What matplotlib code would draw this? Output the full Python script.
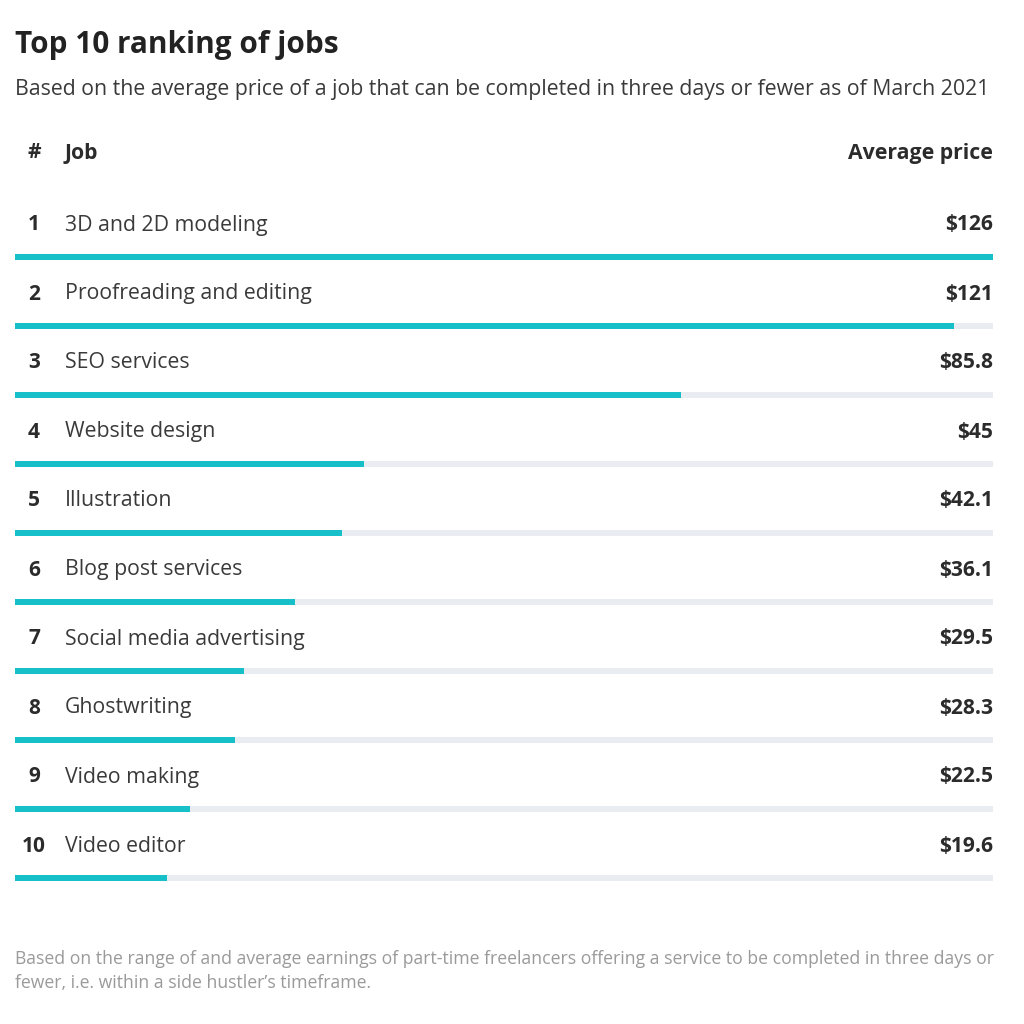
import matplotlib.pyplot as plt

# ---------------- DATA ---------------- #

ranks = ["1", "2", "3", "4", "5", "6", "7", "8", "9", "10"]
jobs = [
    "3D and 2D modeling",
    "Proofreading and editing",
    "SEO services",
    "Website design",
    "Illustration",
    "Blog post services",
    "Social media advertising",
    "Ghostwriting",
    "Video making",
    "Video editor",
]
prices = [126, 121, 85.8, 45, 42.1, 36.1, 29.5, 28.3, 22.5, 19.6]
price_labels = ["$126", "$121", "$85.8", "$45", "$42.1", "$36.1", "$29.5", "$28.3", "$22.5", "$19.6"]

TITLE = "Top 10 ranking of jobs"
SUBTITLE = "Based on the average price of a job that can be completed in three days or fewer as of March 2021"
FOOTNOTE = ("Based on the range of and average earnings of part-time freelancers offering a service to be completed in three days or\n"
            "fewer, i.e. within a side hustler\u2019s timeframe.")

# ---------------- STYLE ---------------- #

plt.rcParams["font.family"] = ["Open Sans", "DejaVu Sans"]

TEAL = "#17bfc9"
TRACK = "#e9ecf0"
DARK = "#2b2b2b"
TEXT = "#3a3a3a"
GREY = "#9a9a9a"

W = H = 1024


def fy(px):
    return 1 - px / H


def fx(px):
    return px / W


fig = plt.figure(figsize=(10.24, 10.24), dpi=100)
fig.patch.set_facecolor("white")

# bar area: row centres at y=257 ... 878 px, bars span x=15 ... 993 px
left, right = 15, 993
top, bottom = 222.5, 912.5
ax = fig.add_axes([fx(left), fy(bottom), fx(right - left), (bottom - top) / H])

n = len(jobs)
y = list(range(n))
vmax = max(prices)

ax.barh(y, [vmax] * n, height=0.085, color=TRACK, zorder=1)
ax.barh(y, prices, height=0.085, color=TEAL, zorder=2)

ax.set_xlim(0, vmax)
ax.set_ylim(n - 0.5, -0.5)
ax.axis("off")

# row labels, placed relative to each bar
for i in y:
    ax.annotate(ranks[i], xy=(0, i), xytext=(19, 32), textcoords="offset pixels",
                ha="center", va="center", fontsize=15, fontweight="bold",
                color=DARK, annotation_clip=False)
    ax.annotate(jobs[i], xy=(0, i), xytext=(50, 32), textcoords="offset pixels",
                ha="left", va="center", fontsize=15.3, color=TEXT,
                annotation_clip=False)
    ax.annotate(price_labels[i], xy=(vmax, i), xytext=(0, 32), textcoords="offset pixels",
                ha="right", va="center", fontsize=15.1, fontweight="bold",
                color=DARK, annotation_clip=False)

# ---------------- HEADER ---------------- #

fig.text(fx(15), fy(45), TITLE, ha="left", va="center", fontsize=21.4,
         fontweight="bold", color="#222222")
fig.text(fx(15), fy(90), SUBTITLE, ha="left", va="center", fontsize=15.35,
         color=TEXT)

fig.text(fx(34), fy(153), "#", ha="center", va="center", fontsize=15,
         fontweight="bold", color=DARK)
fig.text(fx(65), fy(153), "Job", ha="left", va="center", fontsize=15.2,
         fontweight="bold", color=DARK)
fig.text(fx(993), fy(153), "Average price", ha="right", va="center",
         fontsize=15.3, fontweight="bold", color=DARK)

# ---------------- FOOTNOTE ---------------- #

fig.text(fx(15), fy(971), FOOTNOTE, ha="left", va="center", fontsize=12.7,
         color=GREY, linespacing=1.5)

plt.savefig("out.png", dpi=100, facecolor="white")
plt.close()
